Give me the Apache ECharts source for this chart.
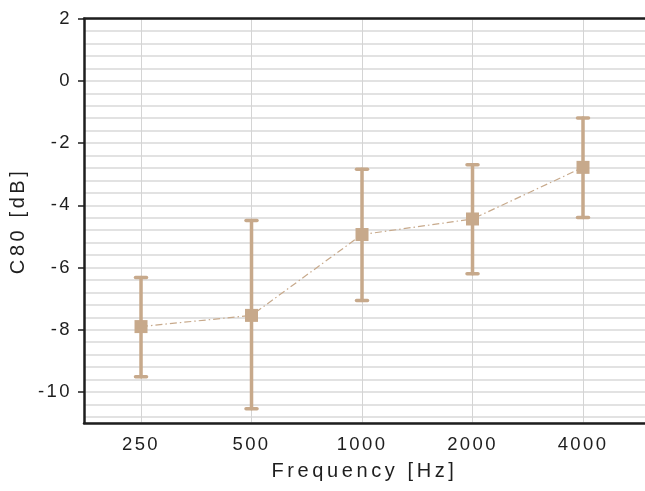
<!DOCTYPE html>
<html>
<head>
<meta charset="utf-8">
<script src="https://cdn.jsdelivr.net/npm/echarts@6/dist/echarts.min.js"></script>
<style>
html,body{margin:0;padding:0;background:#fff;}
#chart{width:645px;height:491px;}
</style>
</head>
<body>
<div id="chart"></div>
<script>
// ---- data ----
const freqLabels = ['250', '500', '1000', '2000', '4000'];
const c80Mean  = [-7.90, -7.54, -4.94, -4.44, -2.78];
const c80Lower = [-9.51, -10.54, -7.06, -6.20, -4.39];
const c80Upper = [-6.32, -4.49, -2.84, -2.70, -1.19];
const yTickValues = [-10, -8, -6, -4, -2, 0, 2];

// letter spacing for text (reference uses widely tracked text)
(function(){
  const proto = CanvasRenderingContext2D.prototype;
  const desc = Object.getOwnPropertyDescriptor(proto, 'font');
  if (!desc || !('letterSpacing' in proto)) return;
  Object.defineProperty(proto, 'font', {
    configurable: true,
    get: function(){ return desc.get.call(this); },
    set: function(v){
      desc.set.call(this, v);
      const m = /(\d+(?:\.\d+)?)px/.exec(v);
      const s = m ? parseFloat(m[1]) : 12;
      this.letterSpacing = s >= 19.5 ? '3.6px' : '2.4px';
    }
  });
})();

const xPos = freqLabels.map((_, i) => i + 1);
const meanData = xPos.map((x, i) => [x, c80Mean[i]]);
const errData = xPos.map((x, i) => [x, c80Lower[i], c80Upper[i]]);

const tan = '#c7a98b';
const dark = '#1e1e1e';
const fontFamily = '"Liberation Sans", Arial, sans-serif';

const chart = echarts.init(document.getElementById('chart'), null, {renderer: 'canvas'});
chart.setOption({
  animation: false,
  backgroundColor: '#ffffff',
  grid: {left: 84, right: 0, top: 18.7, bottom: 68, containLabel: false, outerBoundsMode: 'none'},
  xAxis: [{
    type: 'value',
    min: 0.484,
    max: 5.561,
    name: 'Frequency [Hz]',
    nameLocation: 'middle',
    nameGap: 37,
    nameMoveOverlap: false,
    nameTextStyle: {fontSize: 20, color: dark, fontFamily: fontFamily},
    axisLine: {show: true, onZero: false, lineStyle: {color: dark, width: 2.5}},
    axisTick: {show: false, customValues: xPos},
    axisLabel: {
      customValues: xPos,
      margin: 11,
      fontSize: 18.5,
      color: dark,
      fontFamily: fontFamily,
      formatter: v => freqLabels[Math.round(v) - 1]
    },
    splitLine: {show: true, lineStyle: {color: '#d4d4d4', width: 1}}
  }, {
    type: 'value',
    position: 'top',
    min: 0.484,
    max: 5.561,
    axisLine: {show: true, onZero: false, lineStyle: {color: dark, width: 2.5}},
    axisTick: {show: false},
    axisLabel: {show: false},
    splitLine: {show: false}
  }],
  yAxis: [{
    type: 'value',
    min: -11,
    max: 2,
    name: 'C80 [dB]',
    nameLocation: 'middle',
    nameGap: 54,
    nameMoveOverlap: false,
    nameTextStyle: {fontSize: 20, color: dark, fontFamily: fontFamily},
    axisLine: {show: true, onZero: false, lineStyle: {color: dark, width: 2.5}},
    axisTick: {show: true, customValues: yTickValues, length: 6, lineStyle: {color: dark, width: 1.5}},
    axisLabel: {
      customValues: yTickValues,
      margin: 12,
      fontSize: 18.5,
      color: dark,
      fontFamily: fontFamily
    },
    splitLine: {show: false}
  }, {
    // fine horizontal grid every 0.4 dB, counted down from the top (2 dB)
    type: 'value',
    inverse: true,
    min: -2,
    max: 11,
    interval: 0.4,
    position: 'left',
    axisLine: {show: false},
    axisTick: {show: false},
    axisLabel: {show: false},
    splitLine: {show: true, lineStyle: {color: '#d9d9d9', width: 1.5}}
  }],
  series: [{
    type: 'custom',
    xAxisIndex: 0,
    yAxisIndex: 0,
    data: errData,
    z: 3,
    renderItem: function(params, api){
      const x = api.value(0);
      const lo = api.coord([x, api.value(1)]);
      const hi = api.coord([x, api.value(2)]);
      const style = {stroke: tan, lineWidth: 3.5, lineCap: 'round'};
      return {
        type: 'group',
        children: [
          {type: 'line', shape: {x1: lo[0], y1: lo[1], x2: hi[0], y2: hi[1]}, style: style},
          {type: 'line', shape: {x1: lo[0] - 5.5, y1: lo[1], x2: lo[0] + 5.5, y2: lo[1]}, style: style},
          {type: 'line', shape: {x1: hi[0] - 5.5, y1: hi[1], x2: hi[0] + 5.5, y2: hi[1]}, style: style}
        ]
      };
    }
  }, {
    type: 'line',
    xAxisIndex: 0,
    yAxisIndex: 0,
    data: meanData,
    z: 4,
    symbol: 'rect',
    symbolSize: 13,
    itemStyle: {color: tan},
    lineStyle: {color: tan, width: 1.2, type: [7, 3, 1.5, 3]}
  }]
});
</script>
</body>
</html>
